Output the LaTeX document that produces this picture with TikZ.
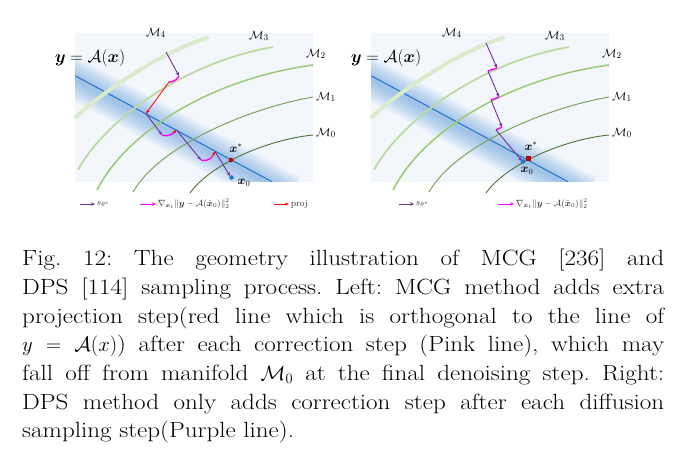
\documentclass[tikz,border=0pt]{standalone}
\usepackage{amsmath}
\usepackage{amssymb}
\usepackage{fontspec}
\usepackage{tikz}
\usepackage{xcolor}
\usetikzlibrary{arrows.meta}

\newfontfamily\capfont{Latin Modern Roman}[FakeStretch=1.14]
\tolerance=9999
\hbadness=10000
\frenchspacing

\definecolor{bgblue}{HTML}{F3F7FC}
\definecolor{lineblue}{HTML}{1F74CC}
\definecolor{glowblue}{HTML}{4F92D8}
\definecolor{mfour}{HTML}{DAEBCC}
\definecolor{mthree}{HTML}{BBDAA0}
\definecolor{mtwo}{HTML}{9ACA74}
\definecolor{mone}{HTML}{7AA35A}
\definecolor{mzero}{HTML}{4C7438}
\definecolor{scorepurple}{HTML}{7030A0}
\definecolor{gradpink}{HTML}{FF00FF}
\definecolor{projred}{HTML}{FF0000}
\definecolor{dotred}{HTML}{C00000}
\definecolor{dotblue}{HTML}{1F77D0}
\definecolor{legtext}{HTML}{333333}

\tikzset{
    sstep/.style={scorepurple, line width=0.9pt, -{Stealth[length=4pt,width=3.5pt]}},
    gstep/.style={gradpink, line width=1.4pt},
    pstep/.style={projred, line width=0.8pt, -{Stealth[length=4pt,width=3pt]}},
    mlabel/.style={inner sep=0pt, font=\fontsize{13}{13}\selectfont},
    ptlabel/.style={inner sep=0pt, font=\fontsize{12}{12}\selectfont},
    legtxt/.style={right, inner sep=1.5pt, text=legtext, font=\fontsize{9.2}{9.2}\selectfont},
}

% manifolds, measurement line and labels shared by both panels
\newcommand{\geopanel}{%
    \fill[bgblue] (75,33) rectangle (313,182);
    \begin{scope}
        \clip (75,33) rectangle (313,182);
        \foreach \w in {40,35,...,5}
            \draw[glowblue, line width=\w pt, opacity=0.08] (58.5,69.8) -- (290.5,194.8);
    \end{scope}
    \coordinate (la) at (75,75.7);
    \coordinate (lb) at (272,181.8);
    \draw[lineblue, line width=1pt] (la) -- (lb);
    \draw[mfour, line width=4pt, line cap=round] (76,117) .. controls (96,97) and (160,52) .. (207,38);
    \draw[mthree, line width=1.8pt] (78,170) .. controls (105,120) and (185,62) .. (273,47);
    \draw[mtwo, line width=1.5pt] (97,190) .. controls (125,135) and (205,80) .. (313,65);
    \draw[mone, line width=1pt] (133,192) .. controls (160,145) and (250,108) .. (313,97);
    \draw[mzero, line width=0.9pt] (190,193) .. controls (210,165) and (265,140) .. (313,135);
    \node[mlabel] (mf4) at (156,33) {$\mathcal{M}_4$};
    \node[mlabel] (mf3) at (259,36) {$\mathcal{M}_3$};
    \node[mlabel] (mf2) at (316,54) {$\mathcal{M}_2$};
    \node[mlabel] (mf1) at (326,97) {$\mathcal{M}_1$};
    \node[mlabel] (mf0) at (326,133) {$\mathcal{M}_0$};
    \node[inner sep=0pt, font=\fontsize{17}{17}\selectfont] (yeq) at (90,58) {$\boldsymbol{y}=\mathcal{A}(\boldsymbol{x})$};
}

\begin{document}
\begin{tikzpicture}[x=1pt, y=-1pt]
    \useasboundingbox (0,0) rectangle (685,457);

    % left: MCG
    \geopanel
    \coordinate (a0) at (166,52);
    \coordinate (a1) at (179,76);
    \coordinate (a2) at (169,82);
    \coordinate (a3) at (146,113.5);
    \coordinate (a4) at (162,135);
    \coordinate (a5) at (174,132.5);
    \coordinate (a6) at (176.5,130);
    \coordinate (a7) at (201,160);
    \coordinate (a8) at (212,157);
    \coordinate (a9) at (215,151.5);
    \coordinate (a10) at (230,176);
    \draw[sstep] (a0) -- (a1);
    \draw[gstep] (a1) to[bend left=30] (a2);
    \draw[pstep] (a2) -- (a3);
    \draw[sstep] (a3) -- (a4);
    \draw[gstep] (a4) to[bend right=30] (a5);
    \draw[pstep] (a5) -- (a6);
    \draw[sstep] (a6) -- (a7);
    \draw[gstep] (a7) to[bend right=30] (a8);
    \draw[pstep] (a8) -- (a9);
    \draw[sstep] (a9) -- (a10);
    \fill[dotred] (231,160) circle (2.3pt);
    \fill[dotblue] (231.5,177.5) circle (2.3pt);
    \node[ptlabel] (xs) at (236,148) {$\boldsymbol{x}^{*}$};
    \node[ptlabel] (xz) at (244,183) {$\boldsymbol{x}_0$};

    % right: DPS
    \begin{scope}[xshift=296pt]
        \geopanel
    \end{scope}
    \coordinate (b0) at (486,43);
    \coordinate (b1) at (497,68);
    \coordinate (b2) at (488,71);
    \coordinate (b3) at (499,97);
    \coordinate (b4) at (491,100);
    \coordinate (b5) at (502,127);
    \coordinate (b6) at (496,130);
    \coordinate (b7) at (522,161);
    \draw[sstep] (b0) -- (b1);
    \draw[gstep] (b1) -- (b2);
    \draw[sstep] (b2) -- (b3);
    \draw[gstep] (b3) -- (b4);
    \draw[sstep] (b4) -- (b5);
    \draw[gstep] (b5) -- (b6);
    \draw[sstep] (b6) -- (b7);
    \fill[dotblue] (523,161.5) circle (2.3pt);
    \fill[dotred] (526,156.5) rectangle (530.5,161);
    \node[ptlabel] (xsr) at (531,146) {$\boldsymbol{x}^{*}$};
    \node[ptlabel] (xzr) at (527,171) {$\boldsymbol{x}_0$};

    % legends
    \draw[sstep] (80,204) -- (95,204) node[legtxt] (ls) {$s_{\theta^*}$};
    \draw[gstep, -{Stealth[length=4pt,width=3.5pt]}, line width=0.9pt] (140,204) -- (156,204)
        node[legtxt] (lg) {$\nabla_{\boldsymbol{x}_t}\|\boldsymbol{y}-\mathcal{A}(\hat{\boldsymbol{x}}_0)\|_2^2$};
    \draw[pstep] (274,204) -- (289,204) node[legtxt] (lp) {proj};
    \draw[sstep] (399,204) -- (414,204) node[legtxt] (rs) {$s_{\theta^*}$};
    \draw[gstep, -{Stealth[length=4pt,width=3.5pt]}, line width=0.9pt] (498,204) -- (514,204)
        node[legtxt] (rg) {$\nabla_{\boldsymbol{x}_t}\|\boldsymbol{y}-\mathcal{A}(\hat{\boldsymbol{x}}_0)\|_2^2$};

    % caption
    \node[anchor=north west, inner sep=0pt, text width=642pt, align=justify,
          font=\capfont\fontsize{22}{28.7}\selectfont] (caption) at (22,249)
        {Fig. 12: The geometry illustration of MCG [236] and\linebreak
         DPS [114] sampling process. Left: MCG method adds extra\linebreak
         projection step(red line which is orthogonal to the line of\linebreak
         $y=\mathcal{A}(x)$) after each correction step (Pink line), which may\linebreak
         fall off from manifold $\mathcal{M}_0$ at the final denoising step. Right:\linebreak
         DPS method only adds correction step after each diffusion\linebreak
         sampling step(Purple line).};
\end{tikzpicture}
\end{document}
